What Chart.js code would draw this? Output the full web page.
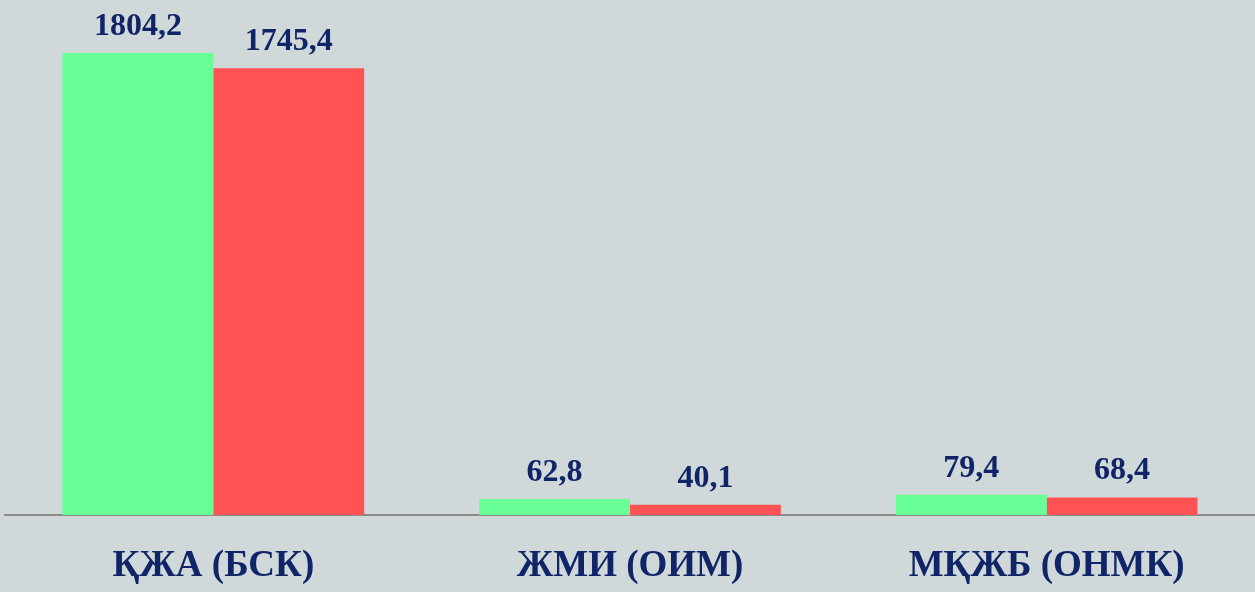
<!DOCTYPE html>
<html>
<head>
<meta charset="utf-8">
<script src="https://cdn.jsdelivr.net/npm/chart.js@4.4.0/dist/chart.umd.min.js"></script>
<style>
  html, body { margin: 0; padding: 0; background: #d0d8da; }
  #wrap { width: 1255px; height: 592px; position: relative; }
</style>
</head>
<body>
<div id="wrap"><canvas id="chart"></canvas></div>
<script>
const categories = ["ҚЖА (БСК)", "ЖМИ (ОИМ)", "МҚЖБ (ОНМК)"];
const seriesA = [1804.2, 62.8, 79.4];
const seriesB = [1745.4, 40.1, 68.4];
const labelsA = ["1804,2", "62,8", "79,4"];
const labelsB = ["1745,4", "40,1", "68,4"];

const textColor = "#0f2567";

// draws the value above every bar
const valueLabels = {
    id: "valueLabels",
    afterDatasetsDraw(chart) {
        const ctx = chart.ctx;
        const texts = [labelsA, labelsB];
        ctx.save();
        ctx.font = "bold 32px 'Liberation Serif'";
        ctx.fillStyle = textColor;
        ctx.textAlign = "center";
        ctx.textBaseline = "alphabetic";
        chart.data.datasets.forEach((ds, i) => {
            chart.getDatasetMeta(i).data.forEach((bar, j) => {
                ctx.fillText(texts[i][j], bar.x, bar.y - 18);
            });
        });
        ctx.restore();
    }
};

const ctx = document.getElementById("chart").getContext("2d");
new Chart(ctx, {
    type: "bar",
    data: {
        labels: categories,
        datasets: [{
            data: seriesA,
            backgroundColor: "#69ff97",
            barPercentage: 1,
            categoryPercentage: 0.724
        }, {
            data: seriesB,
            backgroundColor: "#ff5252",
            barPercentage: 1,
            categoryPercentage: 0.724
        }]
    },
    options: {
        responsive: true,
        maintainAspectRatio: false,
        animation: false,
        layout: { padding: { top: 3, left: 5, right: 0, bottom: 0 } },
        plugins: {
            legend: { display: false },
            tooltip: { enabled: false }
        },
        scales: {
            x: {
                afterFit: (scale) => { scale.height = 77; },
                grid: { display: false, drawTicks: false },
                border: { display: true, color: "#8c8c8c", width: 2 },
                ticks: {
                    color: textColor,
                    padding: 29,
                    font: { family: "'Liberation Serif'", weight: "bold", size: 37, lineHeight: 1.2 }
                }
            },
            y: {
                display: false,
                min: 0,
                max: 2000
            }
        }
    },
    plugins: [valueLabels]
});
</script>
</body>
</html>
